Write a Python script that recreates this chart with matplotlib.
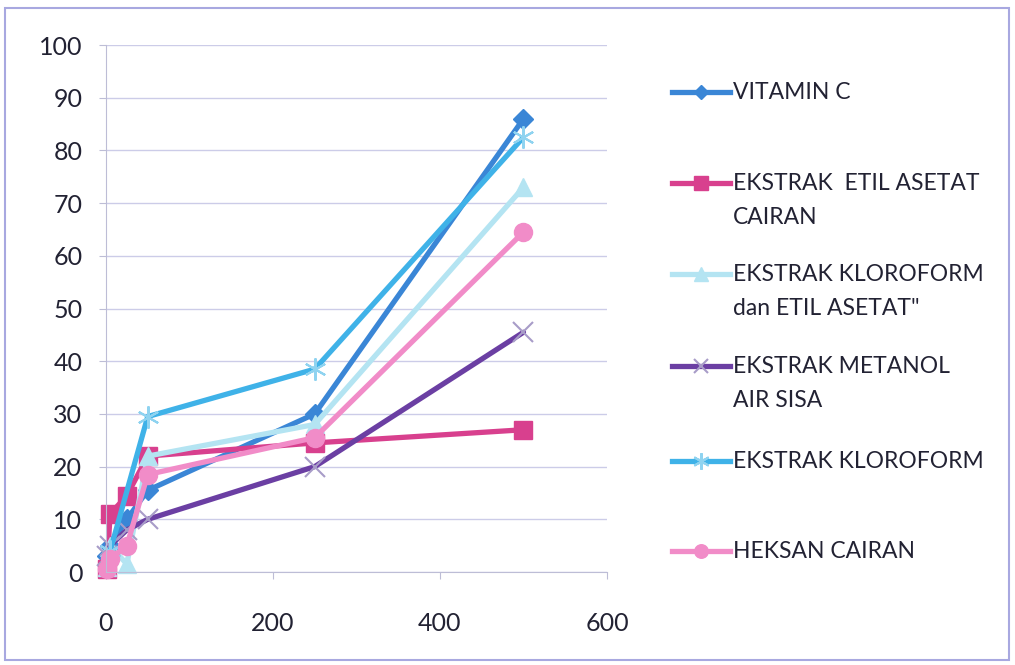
import matplotlib.pyplot as plt
from matplotlib.lines import Line2D
from matplotlib.patches import Rectangle

# konsentrasi (ppm) dan % inhibisi tiap sampel (None = tidak diukur)
konsentrasi = [1, 5, 25, 50, 250, 500]
vitamin_c = [3, 5, 10, 15.5, 30, 86]
etil_asetat_cairan = [0.5, 11, 14.5, 22, 24.5, 27]
kloroform_etil_asetat = [1, 5, 1.5, 22, 28, 73]
metanol_air_sisa = [3, 5, 8, 10, 20, 45.5]
kloroform = [None, 4, None, 29.5, 38.5, 82.5]
heksan_cairan = [0.5, 2.5, 5, 18.5, 25.5, 64.5]

labels = ["VITAMIN C", "EKSTRAK  ETIL ASETAT\nCAIRAN", "EKSTRAK KLOROFORM\ndan ETIL ASETAT\"",
          "EKSTRAK METANOL\nAIR SISA", "EKSTRAK KLOROFORM", "HEKSAN CAIRAN"]
yticks = list(range(0, 101, 10))
xticks = [0, 200, 400, 600]

plt.rcParams['font.family'] = ['Lato', 'DejaVu Sans']

fig = plt.figure(figsize=(10.15, 6.65), dpi=100)
ax = fig.add_axes([0.1044, 0.1398, 0.4936, 0.7925])

series = [
    (vitamin_c, dict(color="#3A86D6", marker="D", markersize=10, mfc="#3A86D6", mec="#3A86D6")),
    (etil_asetat_cairan, dict(color="#D8408E", marker="s", markersize=13, mfc="#D8408E", mec="#D8408E")),
    (kloroform_etil_asetat, dict(color="#B4E4F2", marker="^", markersize=13, mfc="#B4E4F2", mec="#B4E4F2")),
    (metanol_air_sisa, dict(color="#6B3FA3", marker="x", markersize=14, mec="#A89CC8", mew=1.5)),
    (kloroform, dict(color="#3FB2E8", marker=(6, 2, 0), markersize=16, mec="#8FD3F0", mew=1.5)),
    (heksan_cairan, dict(color="#F18CC8", marker="o", markersize=13, mfc="#F18CC8", mec="#F18CC8")),
]

for vals, style in series:
    xs = [x for x, v in zip(konsentrasi, vals) if v is not None]
    ys = [v for v in vals if v is not None]
    ax.plot(xs, ys, linewidth=3.8, solid_capstyle="round", clip_on=False, **style)

ax.set_xlim(0, 600)
ax.set_ylim(0, 100)
ax.set_xticks(xticks)
ax.set_yticks(yticks)
ax.grid(axis="y", color="#CCCCE8", linewidth=1.0)
ax.set_axisbelow(True)
for side in ["top", "right"]:
    ax.spines[side].set_visible(False)
for side in ["left", "bottom"]:
    ax.spines[side].set_color("#BDBDD6")
ax.tick_params(axis="both", colors="#BDBDD6", labelcolor="#222233", labelsize=18, length=5)
ax.tick_params(axis="y", pad=12)
ax.tick_params(axis="x", pad=24)

# legenda di sebelah kanan
tops = [92, 183, 274, 366, 461, 551]
for (vals, style), label, ty in zip(series, labels, tops):
    yf = 1 - ty / 665
    lg_style = dict(style)
    lg_style["markersize"] = style["markersize"] * 0.75
    line = Line2D([672 / 1015, 701 / 1015, 730 / 1015], [yf, yf, yf], transform=fig.transFigure,
                  linewidth=3.8, markevery=[1], **lg_style)
    fig.add_artist(line)
    fig.text(733 / 1015, yf + 10 / 665, label, fontsize=16.5, va="top", ha="left",
             color="#222233", linespacing=1.75)

fig.add_artist(Rectangle((5 / 1015, 5 / 665), 1004 / 1015, 652 / 665, transform=fig.transFigure,
                         fill=False, edgecolor="#A8A8E0", linewidth=1.5))

fig.savefig("out.png", dpi=100)
